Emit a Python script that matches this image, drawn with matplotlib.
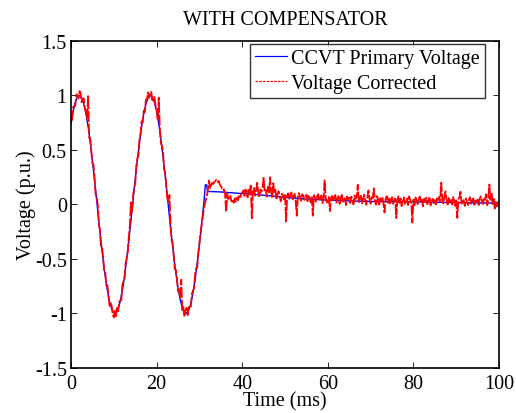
import numpy as np
import matplotlib
matplotlib.use("Agg")
import matplotlib.pyplot as plt
from matplotlib.lines import Line2D

# ---------------- data ----------------
title = "WITH COMPENSATOR"
xlabel = "Time (ms)"
ylabel = "Voltage (p.u.)"
series_names = ["CCVT Primary Voltage", "Voltage Corrected"]
xticks = [0, 20, 40, 60, 80, 100]
yticks = [-1.5, -1, -0.5, 0, 0.5, 1, 1.5]
ytick_labels = ["-1.5", "-1", "-0.5", "0", "0.5", "1", "1.5"]

# CCVT primary voltage (ms, p.u.)
blue_t = [0.0, 0.5, 1.0, 1.5, 2.0, 2.5, 3.0, 3.5, 4.0, 4.5, 5.0, 5.5, 6.0, 6.5,
          7.0, 7.5, 8.0, 8.5, 9.0, 9.5, 10.0, 10.5, 11.0, 11.5, 12.0, 12.5,
          13.0, 13.5, 14.0, 14.5, 15.0, 15.5, 16.0, 16.5, 17.0, 17.5, 18.0,
          18.5, 19.0, 19.5, 20.0, 20.5, 21.0, 21.5, 22.0, 22.5, 23.0, 23.5,
          24.0, 24.5, 25.0, 25.5, 26.0, 26.5, 27.0, 27.5, 28.0, 28.5, 29.0,
          29.5, 30.0, 30.5, 31.0, 31.4, 31.7, 31.9, 35.0, 40.0, 45.0, 50.0,
          55.0, 60.0, 65.0, 70.0, 80.0, 90.0, 100.0]
blue_v = [0.74, 0.853, 0.936, 0.986, 1.0, 0.978, 0.922, 0.833, 0.714, 0.569,
          0.404, 0.225, 0.038, -0.151, -0.334, -0.506, -0.659, -0.789, -0.890,
          -0.960, -0.996, -0.996, -0.960, -0.890, -0.789, -0.659, -0.505,
          -0.334, -0.151, 0.038, 0.225, 0.405, 0.569, 0.714, 0.833, 0.922,
          0.978, 1.0, 0.986, 0.936, 0.853, 0.740, 0.600, 0.439, 0.263, 0.078,
          -0.113, -0.298, -0.473, -0.630, -0.765, -0.872, -0.949, -0.991,
          -0.998, -0.970, -0.907, -0.811, -0.686, -0.538, -0.369, -0.188,
          0.0, 0.18, 0.18, 0.12, 0.115, 0.10, 0.085, 0.065, 0.05, 0.04, 0.033,
          0.028, 0.024, 0.018, 0.012]

# Corrected voltage: deviation from primary voltage, every 0.25 ms from 0 to 100 ms
red_step = 0.25
red_dev = [
    0.03, -0.02, 0.04, 0.01, -0.03, 0.05, 0.02, -0.02, 0.04, 0.03, -0.04, 0.02, 0.05, -0.01, 0.03, 0.02, 0.28, -0.03, 0.04, 0.01,
    -0.03, 0.05, 0.02, -0.04, 0.03, 0.06, -0.02, 0.01, -0.05, 0.03, 0.02, -0.03, 0.04, -0.02, 0.05, 0.01, -0.04, 0.02, 0.03, -0.03,
    -0.04, 0.02, -0.03, 0.04, -0.02, 0.03, 0.01, -0.04, 0.05, 0.02, -0.03, 0.04, 0.01, -0.02, 0.03, 0.05, 0.17, -0.02, 0.04, 0.02,
    -0.03, 0.04, 0.02, -0.04, 0.03, 0.01, 0.05, -0.02, 0.03, -0.03, 0.04, 0.02, 0.05, -0.01, 0.03, 0.04, -0.03, 0.02, 0.05, 0.01,
    0.04, -0.02, 0.24, 0.03, -0.04, 0.02, 0.05, -0.03, 0.03, 0.01, -0.02, 0.04, 0.20, 0.02, -0.03, 0.04, 0.01, -0.04, 0.03, 0.02,
    -0.03, 0.04, 0.02, 0.22, -0.02, 0.03, -0.04, 0.02, 0.05, -0.03, 0.03, 0.01, -0.03, 0.04, 0.02, -0.02, 0.05, 0.03, -0.04, 0.02,
    0.02, 0.01, -0.01, -0.03, -0.05, -0.11, -0.14, -0.085, 0.02, 0.10, 0.03, 0.06, 0.08, 0.07, 0.09, 0.10, 0.11, 0.09, 0.10, 0.07,
    0.055, 0.035, 0.015, 0.025, -0.02, -0.18, -0.01, -0.07, -0.05, -0.03, -0.08, -0.06, -0.09, -0.05, -0.08, -0.04, -0.065, -0.025, -0.045, -0.01,
    0.01, 0.03, -0.02, 0.04, 0.02, -0.03, 0.05, 0.01, 0.09, -0.22, 0.03, 0.06, -0.01, 0.04, 0.11, 0.02, -0.02, 0.05, 0.03, 0.07,
    0.16, 0.03, 0.05, -0.01, 0.08, 0.02, 0.17, 0.04, -0.02, 0.12, 0.03, 0.06, -0.03, 0.02, 0.05, 0.01, -0.04, 0.03, 0.02, -0.02,
    0.03, -0.22, 0.02, 0.04, -0.01, 0.03, 0.05, -0.02, 0.01, 0.04, -0.03, -0.16, 0.02, 0.05, 0.01, -0.02, 0.04, 0.03, -0.01, 0.02,
    0.04, -0.02, 0.03, 0.01, -0.03, 0.02, -0.15, 0.04, 0.01, -0.02, 0.03, 0.05, -0.01, 0.02, 0.04, -0.03, 0.01, 0.18, 0.02, -0.02,
    -0.02, 0.03, -0.10, 0.02, 0.04, -0.01, 0.03, 0.05, -0.02, 0.01, 0.04, -0.03, 0.02, 0.06, -0.01, 0.03, 0.02, -0.04, 0.04, 0.01,
    0.03, -0.02, 0.04, 0.01, -0.03, 0.05, 0.02, 0.04, 0.15, -0.01, 0.03, 0.05, -0.02, 0.02, 0.06, 0.01, -0.03, 0.04, 0.10, 0.02,
    -0.02, 0.04, 0.03, 0.12, 0.01, -0.03, 0.05, 0.02, -0.04, 0.03, 0.01, 0.04, -0.02, -0.10, 0.02, 0.05, -0.01, 0.03, -0.03, 0.02,
    0.04, -0.02, 0.01, 0.03, -0.15, 0.02, 0.05, -0.01, 0.03, -0.04, 0.02, 0.04, -0.02, 0.01, 0.03, -0.03, 0.05, 0.02, -0.01, -0.19,
    0.02, -0.03, 0.04, 0.01, -0.02, 0.03, 0.05, -0.01, 0.02, -0.04, 0.03, 0.01, 0.04, -0.02, 0.02, 0.05, -0.03, 0.01, 0.03, -0.01,
    0.03, -0.02, 0.04, 0.02, 0.05, 0.01, 0.18, 0.03, -0.01, 0.06, 0.10, 0.02, -0.03, 0.04, 0.01, 0.03, -0.02, 0.05, 0.02, -0.03,
    0.02, -0.14, 0.03, 0.05, 0.10, -0.01, 0.03, 0.02, -0.03, 0.04, 0.01, -0.02, 0.03, 0.05, -0.01, 0.02, 0.04, -0.03, 0.02, 0.01,
    0.03, -0.02, 0.04, 0.06, 0.02, -0.01, 0.05, 0.03, 0.08, -0.02, 0.04, 0.17, 0.03, 0.10, -0.02, 0.04, -0.05, 0.02, -0.03, 0.01,
    0.00,
]

# ---------------- plot ----------------
plt.rcParams['font.family'] = ['Liberation Serif', 'DejaVu Serif']
FS = 14.5
plt.rcParams['font.size'] = FS

fig = plt.figure(figsize=(5.16, 4.14), dpi=100)
ax = fig.add_axes([0.1376, 0.1087, 0.8295, 0.7899])

red_t = np.arange(len(red_dev)) * red_step
red_v = np.interp(red_t, blue_t, blue_v) + np.array(red_dev)

ax.plot(blue_t, blue_v, color='#0000ff', lw=1.0, label=series_names[0])
ax.plot(red_t, red_v, color='#ff0000', lw=1.3, linestyle=(0, (6, 1)),
        label=series_names[1])

ax.set_xlim(0, 100)
ax.set_ylim(-1.5, 1.5)
ax.set_xticks(xticks)
ax.set_yticks(yticks)
ax.set_yticklabels(ytick_labels)
ax.tick_params(direction='in', top=True, right=True, length=4, width=0.6,
               labelsize=FS)
ax.tick_params(axis='x', pad=4)
ax.tick_params(axis='y', pad=3)
for s in ax.spines.values():
    s.set_linewidth(1.2)

ax.set_title(title, fontsize=FS, pad=12)
ax.set_xlabel(xlabel, fontsize=FS, labelpad=-1)
ax.set_ylabel(ylabel, fontsize=FS, labelpad=-1)

handles = [Line2D([], [], color='#0000ff', lw=0.9),
           Line2D([], [], color='#ff0000', lw=0.9, linestyle=(0, (2, 1)))]
leg = ax.legend(handles, series_names, loc='upper right', fontsize=FS,
                frameon=True, fancybox=False, edgecolor='black',
                borderaxespad=0.15, handlelength=1.6, handletextpad=0.2,
                labelspacing=0.3, borderpad=0.25, bbox_to_anchor=(0.974, 1.0))
leg.get_frame().set_linewidth(1.0)

fig.savefig("out.png", dpi=100)
